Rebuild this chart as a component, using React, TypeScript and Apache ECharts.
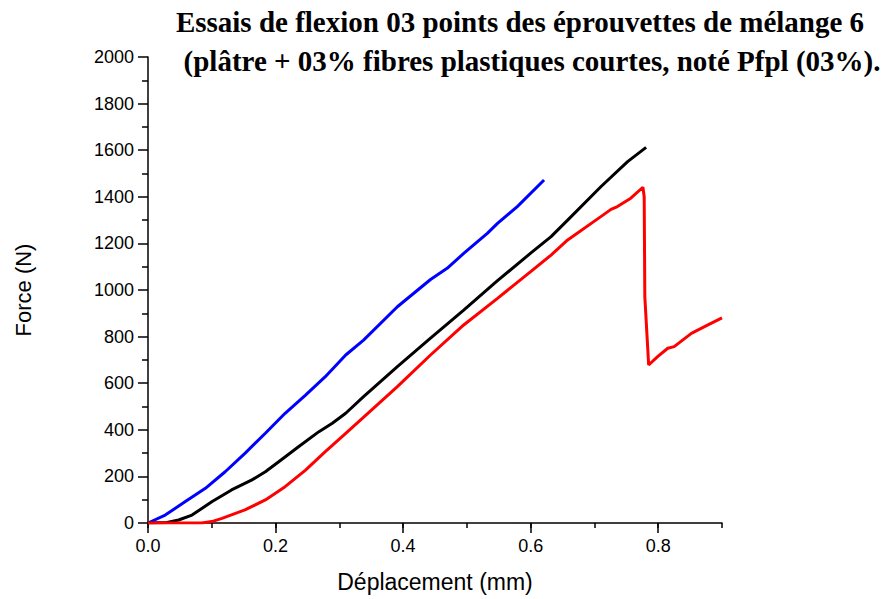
import React, { useEffect, useRef } from "react";
import * as echarts from "echarts";

const titleLine1 = "Essais de flexion 03 points des éprouvettes de mélange 6";
const titleLine2 = "(plâtre + 03% fibres plastiques courtes, noté Pfpl (03%).";
const xAxisName = "Déplacement (mm)";
const yAxisName = "Force (N)";

const xLabelValues = [0, 0.2, 0.4, 0.6, 0.8];

const blueX = [0, 0.027, 0.058, 0.09, 0.121, 0.152, 0.184, 0.215, 0.247, 0.278, 0.31, 0.338, 0.391, 0.443, 0.469, 0.495, 0.532, 0.548, 0.579, 0.621];
const blueY = [0, 34, 91, 149, 220, 299, 385, 471, 549, 628, 721, 785, 928, 1045, 1093, 1157, 1243, 1286, 1358, 1472];

const blackX = [0, 0.03, 0.048, 0.069, 0.1, 0.131, 0.163, 0.184, 0.205, 0.236, 0.268, 0.289, 0.31, 0.338, 0.391, 0.443, 0.495, 0.548, 0.6, 0.632, 0.658, 0.71, 0.752, 0.781];
const blackY = [0, 2, 13, 34, 91, 142, 185, 220, 263, 327, 392, 428, 471, 542, 671, 793, 914, 1040, 1158, 1229, 1300, 1443, 1551, 1612];

const redX = [0, 0.05, 0.084, 0.1, 0.116, 0.152, 0.184, 0.215, 0.247, 0.278, 0.31, 0.336, 0.391, 0.443, 0.495, 0.548, 0.6, 0.632, 0.658, 0.71, 0.726, 0.736, 0.757, 0.776, 0.778, 0.779, 0.785, 0.799, 0.815, 0.825, 0.852, 0.878, 0.9];
const redY = [0, 0, 0, 6, 20, 56, 99, 156, 227, 306, 385, 449, 585, 721, 850, 964, 1079, 1150, 1215, 1315, 1346, 1358, 1394, 1441, 1400, 971, 678, 714, 750, 757, 814, 850, 880];

const pairs = (xs: number[], ys: number[]) => xs.map((x, i) => [x, ys[i]]);

export default function App() {
  const ref = useRef<HTMLDivElement>(null);
  useEffect(() => {
    if (!ref.current) return;
    const chart = echarts.init(ref.current, null, { renderer: "svg" });
    const labelFont = "'Liberation Sans', Arial, sans-serif";
    const titleFont = "'Liberation Serif', 'Times New Roman', serif";
    chart.setOption({
      animation: false,
      backgroundColor: "#ffffff",
      graphic: [
        {
          type: "text",
          x: 520,
          y: 22,
          style: {
            text: titleLine1,
            font: `bold 29px ${titleFont}`,
            fill: "#000",
            textAlign: "center",
            textVerticalAlign: "middle",
          },
        },
        {
          type: "text",
          x: 532,
          y: 61,
          style: {
            text: titleLine2,
            font: `bold 29px ${titleFont}`,
            fill: "#000",
            textAlign: "center",
            textVerticalAlign: "middle",
          },
        },
      ],
      grid: { left: 148, right: 165, top: 57, bottom: 76, containLabel: false },
      xAxis: [
        {
          type: "value",
          min: 0,
          max: 0.9,
          interval: 0.1,
          name: xAxisName,
          nameLocation: "middle",
          nameGap: 47,
          nameTextStyle: { fontFamily: labelFont, fontSize: 23, color: "#000" },
          axisLine: { show: true, onZero: false, lineStyle: { color: "#000", width: 1.5 } },
          axisTick: { show: true, length: 5, lineStyle: { color: "#000", width: 1.5 } },
          axisLabel: {
            show: true,
            margin: 14,
            fontFamily: labelFont,
            fontSize: 18,
            color: "#000",
            customValues: xLabelValues,
            formatter: (v: number) => v.toFixed(1),
          },
          splitLine: { show: false },
        },
        {
          type: "value",
          min: 0,
          max: 0.9,
          position: "bottom",
          axisLine: { show: false },
          axisTick: { show: true, length: 10, customValues: xLabelValues, lineStyle: { color: "#000", width: 1.5 } },
          axisLabel: { show: false },
          splitLine: { show: false },
        },
      ],
      yAxis: {
        type: "value",
        min: 0,
        max: 2000,
        interval: 200,
        name: yAxisName,
        nameLocation: "middle",
        nameGap: 114,
        nameTextStyle: { fontFamily: labelFont, fontSize: 22, color: "#000" },
        axisLine: { show: true, onZero: false, lineStyle: { color: "#000", width: 1.5 } },
        axisTick: { show: true, length: 10, lineStyle: { color: "#000", width: 1.5 } },
        minorTick: { show: true, splitNumber: 2, length: 6, lineStyle: { color: "#000", width: 1.5 } },
        axisLabel: {
          margin: 14,
          fontFamily: labelFont,
          fontSize: 18,
          color: "#000",
          formatter: (v: number) => String(v),
        },
        splitLine: { show: false },
      },
      series: [
        {
          type: "line",
          name: "blue",
          data: pairs(blueX, blueY),
          showSymbol: false,
          symbol: "none",
          lineStyle: { color: "#0000ff", width: 3 },
          itemStyle: { color: "#0000ff" },
          clip: true,
        },
        {
          type: "line",
          name: "black",
          data: pairs(blackX, blackY),
          showSymbol: false,
          symbol: "none",
          lineStyle: { color: "#000000", width: 3 },
          itemStyle: { color: "#000000" },
          clip: true,
        },
        {
          type: "line",
          name: "red",
          data: pairs(redX, redY),
          showSymbol: false,
          symbol: "none",
          lineStyle: { color: "#ff0000", width: 3 },
          itemStyle: { color: "#ff0000" },
          clip: true,
        },
      ],
    });
    return () => chart.dispose();
  }, []);
  return <div ref={ref} style={{ width: 887, height: 599, position: "absolute", left: 0, top: 0 }} />;
}
